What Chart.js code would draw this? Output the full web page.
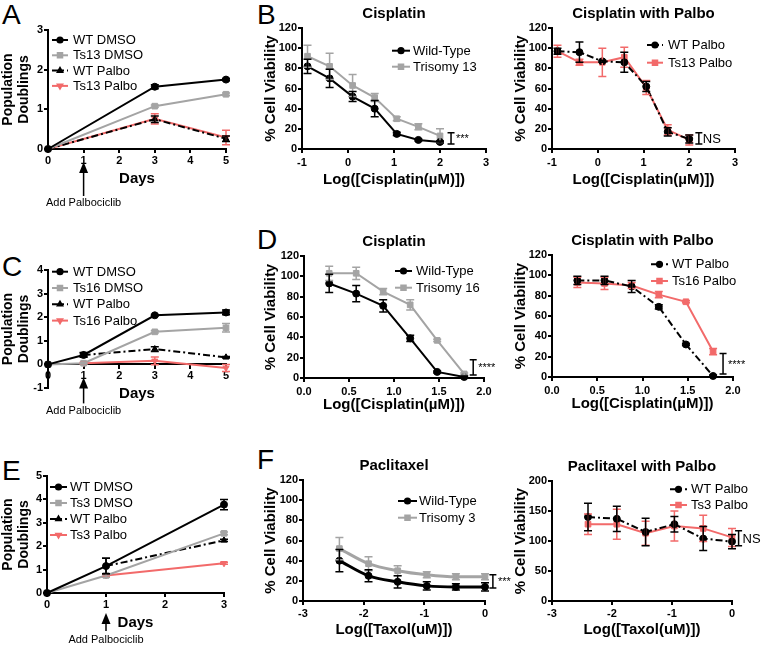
<!DOCTYPE html>
<html>
<head>
<meta charset="utf-8">
<script src="https://cdn.jsdelivr.net/npm/chart.js@4.4.1/dist/chart.umd.min.js"></script>
<style>
  body { margin: 0; background: #fff; width: 762px; height: 648px; position: relative; overflow: hidden;
         font-family: "Liberation Sans", Arial, sans-serif; }
  canvas { position: absolute; }
  .lt { position: absolute; font-size: 28px; line-height: 28px; color: #000; }
</style>
</head>
<body>
<div class="lt" style="left:2px;top:1px">A</div>
<div class="lt" style="left:257px;top:1px">B</div>
<div class="lt" style="left:2px;top:253px">C</div>
<div class="lt" style="left:257px;top:226px">D</div>
<div class="lt" style="left:2px;top:457px">E</div>
<div class="lt" style="left:257px;top:446px">F</div>
<script>
// ---- data ----
// A: growth, Ts13
const daysA = [0, 3, 5];
const aWtDmso = [0, 1.57, 1.75],  aWtDmsoErr = [0, 0.05, 0.03];
const aTsDmso = [0, 1.08, 1.38],  aTsDmsoErr = [0, 0.03, 0.03];
const aWtPalbo = [0, 0.75, 0.26], aWtPalboErr = [0, 0.08, 0.07];
const aTsPalbo = [0, 0.76, 0.29], aTsPalboErr = [0, 0.13, 0.18];

// B: cisplatin, Ts13
const bDose = [-0.88, -0.4, 0.1, 0.58, 1.06, 1.53, 2.0];
const bWt = [82, 70, 52, 40, 15, 9, 7],      bWtErr = [7, 9, 5, 8, 1.5, 1, 1];
const bTs = [92, 82, 63, 51, 30, 22, 13],    bTsErr = [11, 13, 11, 4, 2, 3, 7];
const bWtP = [97, 96, 87, 86, 62, 17, 10],   bWtPErr = [3, 10, 1, 10, 5, 4, 4];
const bTsP = [97, 86, 86, 91, 61, 19, 9],    bTsPErr = [6, 3, 14, 10, 7, 5, 5];

// C: growth, Ts16
const daysC = [0, 1, 3, 5];
const cWtDmso = [0, 0.4, 2.08, 2.2],       cWtDmsoErr = [0, 0.08, 0.03, 0.1];
const cTsDmso = [0, 0.05, 1.38, 1.55],     cTsDmsoErr = [0, 0.03, 0.05, 0.18];
const cWtPalbo = [null, 0.4, 0.65, 0.3],   cWtPalboErr = [0, 0.1, 0.1, 0.03];
const cTsPalbo = [null, 0.05, 0.15, -0.15], cTsPalboErr = [0, 0.03, 0.16, 0.15];

// D: cisplatin, Ts16
const dDose = [0.28, 0.58, 0.88, 1.18, 1.48, 1.78];
const dWt = [93, 83, 71, 39, 6, 1],     dWtErr = [9, 8, 6, 3, 1, 1];
const dTs = [103, 103, 85, 72, 37, 4],  dTsErr = [7, 6, 3, 5, 1, 1];
const dWtP = [95, 95, 89, 69, 32, 1],   dWtPErr = [4, 4, 6, 2, 1, 1];
const dTsP = [93, 92, 90, 81, 74, 25],  dTsPErr = [5, 6, 3, 3, 1, 3];

// E: growth, Ts3
const daysE = [0, 1, 3];
const eWtDmso = [0, 1.15, 3.78],   eWtDmsoErr = [0, 0.33, 0.22];
const eTsDmso = [0, 0.75, 2.55],   eTsDmsoErr = [0, 0.08, 0.06];
const eWtPalbo = [null, 1.15, 2.25], eWtPalboErr = [0, 0.33, 0.05];
const eTsPalbo = [null, 0.75, 1.27], eTsPalboErr = [0, 0.05, 0.04];

// F: taxol, Ts3
const fDose = [-2.4, -1.92, -1.44, -0.96, -0.48, 0];
const fWt = [40, 25, 19, 15, 14, 14],            fWtErr = [11, 6, 6, 4, 3, 4];
const fTs = [52, 37, 30, 26, 24, 24],            fTsErr = [11, 7, 5, 3, 3, 3];
const fWtP = [140, 137, 115, 128, 104, 99],      fWtPErr = [23, 21, 23, 13, 20, 12];
const fTsP = [128, 128, 113, 125, 121, 106],     fTsPErr = [17, 25, 20, 25, 22, 15];

// ---- style ----
const FONT = '"Liberation Sans", Arial, sans-serif';
const BLACK = '#000', GRAY = '#a4a4a4', RED = '#f26a6a';
const DASHDOT = [7, 3, 2, 3];
Chart.defaults.font.family = FONT;

function ser(label, xs, ys, err, color, style, extra) {
  return Object.assign({
    label: label,
    data: xs.map((x, i) => ({x: x, y: ys[i]})),
    err: err,
    borderColor: color, backgroundColor: color,
    pointBackgroundColor: color, pointBorderColor: color,
    pointStyle: style, pointRadius: style === 'rect' ? 4 : 3.5, pointBorderWidth: 1,
    borderWidth: 2, tension: 0, clip: false, fill: false
  }, extra || {});
}

const deco = {
  id: 'deco',
  afterDatasetsDraw(chart, args, o) {
    const ctx = chart.ctx, xs = chart.scales.x, ys = chart.scales.y, a = chart.chartArea;
    const dsets = chart.data.datasets;
    ctx.save();
    // error bars
    for (let i = dsets.length - 1; i >= 0; i--) {
      const ds = dsets[i];
      ctx.strokeStyle = ds.borderColor; ctx.lineWidth = 1.5; ctx.setLineDash([]);
      ds.data.forEach((pt, j) => {
        const e = ds.err && ds.err[j];
        if (pt.y == null || !e) return;
        const px = xs.getPixelForValue(pt.x);
        const p1 = ys.getPixelForValue(pt.y + e), p2 = ys.getPixelForValue(pt.y - e);
        ctx.beginPath();
        ctx.moveTo(px, p1); ctx.lineTo(px, p2);
        ctx.moveTo(px - 4, p1); ctx.lineTo(px + 4, p1);
        ctx.moveTo(px - 4, p2); ctx.lineTo(px + 4, p2);
        ctx.stroke();
      });
    }
    // legend
    if (o.legend) {
      const lg = o.legend, len = lg.len || 17;
      dsets.forEach((ds, i) => {
        const x0 = a.left + lg.dx, yy = a.top + lg.dy + i * lg.gap;
        ctx.strokeStyle = ds.borderColor; ctx.lineWidth = 2;
        ctx.setLineDash(ds.borderDash || []);
        ctx.beginPath(); ctx.moveTo(x0, yy); ctx.lineTo(x0 + len, yy); ctx.stroke();
        ctx.setLineDash([]);
        ctx.fillStyle = ds.borderColor;
        Chart.helpers.drawPoint(ctx, {pointStyle: ds.pointStyle, rotation: ds.pointRotation || 0,
          radius: ds.pointStyle === 'rect' ? 3.2 : 2.6, borderWidth: 1}, x0 + len / 2, yy);
        ctx.fillStyle = '#000';
        ctx.font = '13px ' + FONT; ctx.textAlign = 'left'; ctx.textBaseline = 'middle';
        ctx.fillText(ds.label, x0 + (lg.tx || 21), yy + 0.5);
      });
    }
    // significance bracket
    if (o.sig) {
      const s = o.sig, px = xs.getPixelForValue(s.x);
      const p1 = ys.getPixelForValue(s.y2), p2 = ys.getPixelForValue(s.y1);
      ctx.strokeStyle = '#000'; ctx.lineWidth = 1.5;
      ctx.beginPath();
      ctx.moveTo(px, p1); ctx.lineTo(px, p2);
      ctx.moveTo(px - 3.5, p1); ctx.lineTo(px + 3.5, p1);
      ctx.moveTo(px - 3.5, p2); ctx.lineTo(px + 3.5, p2);
      ctx.stroke();
      ctx.fillStyle = '#000'; ctx.textAlign = 'left'; ctx.textBaseline = 'middle';
      if (s.text === 'NS') { ctx.font = '13px ' + FONT; ctx.fillText(s.text, px + 4, (p1 + p2) / 2 + 1); }
      else { ctx.font = '11px ' + FONT; ctx.fillText(s.text, px + 5, (p1 + p2) / 2 + 1); }
    }
    // arrow for drug addition
    if (o.arrow) {
      const ar = o.arrow, ax = xs.getPixelForValue(ar.x), y0 = ys.getPixelForValue(0);
      ctx.strokeStyle = '#000'; ctx.fillStyle = '#000'; ctx.lineWidth = 1.5;
      ctx.beginPath(); ctx.moveTo(ax, y0 + ar.tip + 8); ctx.lineTo(ax, y0 + ar.tail); ctx.stroke();
      ctx.beginPath(); ctx.moveTo(ax, y0 + ar.tip); ctx.lineTo(ax - 4.5, y0 + ar.tip + 11);
      ctx.lineTo(ax + 4.5, y0 + ar.tip + 11); ctx.closePath(); ctx.fill();
      ctx.font = '11px ' + FONT; ctx.textAlign = 'center'; ctx.textBaseline = 'middle';
      ctx.fillText(ar.text, ax, y0 + ar.textY);
    }
    // chart title
    if (o.title) {
      ctx.fillStyle = '#000'; ctx.font = 'bold 15px ' + FONT;
      ctx.textAlign = 'center'; ctx.textBaseline = 'middle';
      ctx.fillText(o.title, (a.left + a.right) / 2, a.top - 14);
    }
    ctx.restore();
  }
};

function axisCommon(min, max, step, pad, cb) {
  const t = {color: '#000', font: {size: 11, weight: 'bold'}, padding: pad, stepSize: step, autoSkip: false};
  if (cb) t.callback = cb;
  return {
    type: 'linear', min: min, max: max, ticks: t,
    grid: {drawOnChartArea: false, drawTicks: true, tickLength: 4, color: '#000', lineWidth: 2},
    border: {color: '#000', width: 2}
  };
}

function panel(p) {
  const yW = 48, padT = p.padT || 24, padR = p.padR || 25;
  const xH = p.xTitleDy + 9;
  const cx = p.L - yW, cy = p.T - padT;
  const bottomEdge = p.bottomEdge;
  const cw = p.R + padR - cx, ch = bottomEdge - cy;
  const padB = p.xPos ? bottomEdge - p.B : bottomEdge - p.B - xH;
  const cv = document.createElement('canvas');
  cv.width = cw; cv.height = ch;
  cv.style.left = cx + 'px'; cv.style.top = cy + 'px';
  document.body.appendChild(cv);

  const ySize = p.yTitleSize || 15, yLH = p.yLH || 1.2, lh = ySize * yLH;
  const x = axisCommon(p.xMin, p.xMax, p.xStep, p.xTickPad, p.xCb);
  x.position = p.xPos || 'bottom';
  x.afterFit = s => { s.height = xH; };
  x.title = {display: true, text: p.xTitle, color: '#000',
             font: {size: 15, weight: 'bold', lineHeight: 1.2}, padding: {top: 0, bottom: 0}};
  const y = axisCommon(p.yMin, p.yMax, p.yStep, 1);
  y.afterFit = s => { s.width = yW; };
  y.title = {display: true, text: p.yTitle, color: '#000',
             font: {size: ySize, weight: 'bold', lineHeight: yLH},
             padding: {top: p.yTitleX - cx - lh / 2, bottom: 0}};

  return new Chart(cv, {
    type: 'line',
    data: {datasets: p.datasets},
    options: {
      animation: false, responsive: false, devicePixelRatio: 1,
      layout: {padding: {left: 0, top: padT, right: padR, bottom: padB}},
      plugins: {legend: {display: false}, tooltip: {enabled: false}, deco: p.deco},
      scales: {x: x, y: y}
    },
    plugins: [deco]
  });
}

const DOUB = ['Population', 'Doublings'];
const VIAB = '% Cell Viability';
const CIS = 'Log([Cisplatin(\u00b5M)])';
const TAX = 'Log([Taxol(uM)])';

// A
panel({L: 48, T: 30, R: 226, B: 149, bottomEdge: 212, padT: 14,
  xMin: 0, xMax: 5, xStep: 1, xTickPad: 1, yMin: 0, yMax: 3, yStep: 1,
  xTitle: 'Days', xTitleDy: 30, yTitle: DOUB, yTitleX: 8.5, yTitleSize: 14, yLH: 1.15,
  datasets: [
    ser('WT DMSO', daysA, aWtDmso, aWtDmsoErr, BLACK, 'circle'),
    ser('Ts13 DMSO', daysA, aTsDmso, aTsDmsoErr, GRAY, 'rect'),
    ser('WT Palbo', daysA, aWtPalbo, aWtPalboErr, BLACK, 'triangle', {borderDash: DASHDOT}),
    ser('Ts13 Palbo', daysA, aTsPalbo, aTsPalboErr, RED, 'triangle', {pointRotation: 180})
  ],
  deco: {legend: {dx: 4, dy: 10, gap: 15.3, len: 16, tx: 21},
         arrow: {x: 1, tip: 13, tail: 47, textY: 54, text: 'Add Palbociclib'}}
});

// B left
panel({L: 302, T: 28, R: 486, B: 149, bottomEdge: 194,
  xMin: -1, xMax: 3, xStep: 1, xTickPad: 3, yMin: 0, yMax: 120, yStep: 20,
  xTitle: CIS, xTitleDy: 31, yTitle: VIAB, yTitleX: 271,
  datasets: [
    ser('Wild-Type', bDose, bWt, bWtErr, BLACK, 'circle'),
    ser('Trisomy 13', bDose, bTs, bTsErr, GRAY, 'rect')
  ],
  deco: {title: 'Cisplatin', legend: {dx: 90, dy: 22.7, gap: 16, len: 18},
         sig: {x: 2.24, y1: 5, y2: 16, text: '***'}}
});

// B right
panel({L: 552, T: 28, R: 735, B: 149, bottomEdge: 194, padR: 27,
  xMin: -1, xMax: 3, xStep: 1, xTickPad: 3, yMin: 0, yMax: 120, yStep: 20,
  xTitle: CIS, xTitleDy: 31, yTitle: VIAB, yTitleX: 521,
  datasets: [
    ser('WT Palbo', bDose, bWtP, bWtPErr, BLACK, 'circle', {borderDash: DASHDOT}),
    ser('Ts13 Palbo', bDose, bTsP, bTsPErr, RED, 'rect')
  ],
  deco: {title: 'Cisplatin with Palbo', legend: {dx: 95, dy: 17, gap: 17.7, len: 16},
         sig: {x: 2.21, y1: 5, y2: 16, text: 'NS'}}
});

// C
panel({L: 48, T: 270, R: 226, B: 388, bottomEdge: 418, xPos: {y: 0},
  xMin: 0, xMax: 5, xStep: 1, xTickPad: 1, yMin: -1, yMax: 4, yStep: 1,
  xTitle: 'Days', xTitleDy: 29, yTitle: DOUB, yTitleX: 8.5, yTitleSize: 14, yLH: 1.15,
  datasets: [
    ser('WT DMSO', daysC, cWtDmso, cWtDmsoErr, BLACK, 'circle'),
    ser('Ts16 DMSO', daysC, cTsDmso, cTsDmsoErr, GRAY, 'rect'),
    ser('WT Palbo', daysC, cWtPalbo, cWtPalboErr, BLACK, 'triangle', {borderDash: DASHDOT}),
    ser('Ts16 Palbo', daysC, cTsPalbo, cTsPalboErr, RED, 'triangle', {pointRotation: 180})
  ],
  deco: {legend: {dx: 4, dy: 1.7, gap: 16.3, len: 16, tx: 21},
         arrow: {x: 1, tip: 13, tail: 39, textY: 47, text: 'Add Palbociclib'}}
});

// D left
panel({L: 304, T: 256, R: 484, B: 378, bottomEdge: 418, padR: 22,
  xMin: 0, xMax: 2, xStep: 0.5, xTickPad: 3, xCb: v => v.toFixed(1),
  yMin: 0, yMax: 120, yStep: 20,
  xTitle: CIS, xTitleDy: 27, yTitle: VIAB, yTitleX: 271,
  datasets: [
    ser('Wild-Type', dDose, dWt, dWtErr, BLACK, 'circle'),
    ser('Trisomy 16', dDose, dTs, dTsErr, GRAY, 'rect')
  ],
  deco: {title: 'Cisplatin', legend: {dx: 91, dy: 15, gap: 16.7, len: 17},
         sig: {x: 1.88, y1: 3, y2: 18, text: '****'}}
});

// D right
panel({L: 552, T: 255, R: 733, B: 377, bottomEdge: 418, padR: 29,
  xMin: 0, xMax: 2, xStep: 0.5, xTickPad: 3, xCb: v => v.toFixed(1),
  yMin: 0, yMax: 120, yStep: 20,
  xTitle: CIS, xTitleDy: 27, yTitle: VIAB, yTitleX: 521,
  datasets: [
    ser('WT Palbo', dDose, dWtP, dWtPErr, BLACK, 'circle', {borderDash: DASHDOT}),
    ser('Ts16 Palbo', dDose, dTsP, dTsPErr, RED, 'rect')
  ],
  deco: {title: 'Cisplatin with Palbo', legend: {dx: 99, dy: 9.3, gap: 16.7, len: 17},
         sig: {x: 1.89, y1: 3, y2: 23, text: '****'}}
});

// E
panel({L: 47, T: 476, R: 224, B: 593, bottomEdge: 648, padT: 14,
  xMin: 0, xMax: 3, xStep: 1, xTickPad: 1, yMin: 0, yMax: 5, yStep: 1,
  xTitle: 'Days', xTitleDy: 30, yTitle: DOUB, yTitleX: 8.5, yTitleSize: 14, yLH: 1.15,
  datasets: [
    ser('WT DMSO', daysE, eWtDmso, eWtDmsoErr, BLACK, 'circle'),
    ser('Ts3 DMSO', daysE, eTsDmso, eTsDmsoErr, GRAY, 'rect'),
    ser('WT Palbo', daysE, eWtPalbo, eWtPalboErr, BLACK, 'triangle', {borderDash: DASHDOT}),
    ser('Ts3 Palbo', daysE, eTsPalbo, eTsPalboErr, RED, 'triangle', {pointRotation: 180})
  ],
  deco: {legend: {dx: 3, dy: 11, gap: 16, len: 17, tx: 20},
         arrow: {x: 1, tip: 20, tail: 38, textY: 47, text: 'Add Palbociclib'}}
});

// F left
panel({L: 303, T: 480, R: 485, B: 601, bottomEdge: 645, padR: 30,
  xMin: -3, xMax: 0, xStep: 1, xTickPad: 2, yMin: 0, yMax: 120, yStep: 20,
  xTitle: TAX, xTitleDy: 29, yTitle: VIAB, yTitleX: 271,
  datasets: [
    ser('Wild-Type', fDose, fWt, fWtErr, BLACK, 'circle', {borderWidth: 3, cubicInterpolationMode: 'monotone'}),
    ser('Trisomy 3', fDose, fTs, fTsErr, GRAY, 'rect', {borderWidth: 3, cubicInterpolationMode: 'monotone'})
  ],
  deco: {title: 'Paclitaxel', legend: {dx: 95, dy: 21, gap: 16.7, len: 19},
         sig: {x: 0.13, y1: 13, y2: 26, text: '***'}}
});

// F right
panel({L: 552, T: 481, R: 732, B: 601, bottomEdge: 645, padR: 30,
  xMin: -3, xMax: 0, xStep: 1, xTickPad: 2, yMin: 0, yMax: 200, yStep: 50,
  xTitle: TAX, xTitleDy: 29, yTitle: VIAB, yTitleX: 521,
  datasets: [
    ser('WT Palbo', fDose, fWtP, fWtPErr, BLACK, 'circle', {borderDash: DASHDOT}),
    ser('Ts3 Palbo', fDose, fTsP, fTsPErr, RED, 'rect')
  ],
  deco: {title: 'Paclitaxel with Palbo', legend: {dx: 118, dy: 8.3, gap: 15.7, len: 17},
         sig: {x: 0.11, y1: 92, y2: 117, text: 'NS'}}
});
</script>
</body>
</html>
